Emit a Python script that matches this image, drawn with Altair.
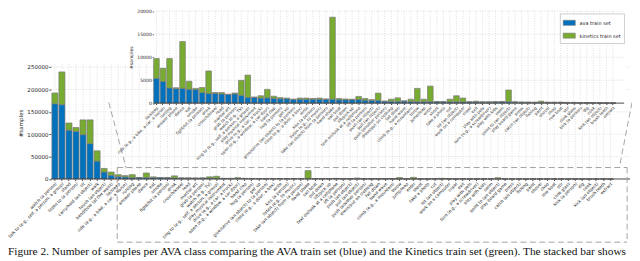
import altair as alt
import pandas as pd

# ---------------- data ----------------
classes = [
    "watch (a person)", "talk to (e.g., self, a person, a group)", "stand", "listen to (a person)", "sit",
    "carry/hold (an object)", "walk", "touch (an object)", "bend/bow (at the waist)", "lie/sleep",
    "ride (e.g., a bike, a car, a horse)", "run/jog", "answer phone", "dance", "eat",
    "smoke", "fight/hit (a person)", "drink", "crouch/kneel", "read",
    "martial art", "grab (a person)", "watch (e.g., TV)", "sing to (e.g., self, a person, a group)", "play musical instrument",
    "drive (e.g., a car, a truck)", "open (e.g., a window, a car door)", "hand clap", "hug (a person)", "get up",
    "give/serve (an object) to (a person)", "close (e.g., a door, a box)", "write", "kiss (a person)", "listen (e.g., to music)",
    "take (an object) from (a person)", "hand shake", "sail boat", "put down", "lift/pick up",
    "text on/look at a cellphone", "lift (a person)", "push (an object)", "pull (an object)", "push (another person)",
    "dress/put on clothing", "fall down", "hand wave", "climb (e.g., a mountain)", "throw",
    "jump/leap", "enter", "shoot", "take a photo", "cut",
    "hit (an object)", "work on a computer", "crawl", "exit", "play with pets",
    "turn (e.g., a screwdriver)", "play with kids", "swim", "point to (an object)", "play board game",
    "press", "catch (an object)", "fishing", "paint", "shovel",
    "chop", "row boat", "stir", "clink glass", "kick (a person)",
    "dig", "cook", "kick (an object)", "brush teeth", "extract",
]
ava = [
    168000, 166000, 109000, 106000, 99000, 79000, 40000, 15600, 8500, 5400,
    4700, 3300, 3150, 3200, 3000, 2950, 2300, 2100, 2100, 2000,
    1900, 2000, 1700, 1250, 1250, 1100, 1150, 1050, 950, 950,
    800, 850, 850, 850, 850, 850, 850, 750, 750, 750,
    800, 650, 600, 600, 400, 400, 400, 450, 350, 300,
    300, 300, 300, 300, 250, 250, 250, 250, 250, 200,
    200, 250, 250, 300, 200, 200, 150, 150, 150, 150,
    150, 150, 120, 120, 100, 100, 80, 60, 50, 40,
]
kinetics = [
    24000, 73000, 16000, 9000, 33000, 53000, 23000, 8000, 7000, 4300,
    2900, 6400, 200, 10200, 1750, 250, 1100, 4900, 200, 300,
    0, 200, 3250, 4850, 50, 500, 1850, 450, 250, 150,
    50, 250, 250, 150, 250, 0, 17850, 250, 150, 100,
    650, 350, 150, 1570, 0, 450, 750, 0, 500, 2900,
    550, 3400, 0, 0, 600, 1350, 850, 50, 150, 100,
    100, 50, 100, 2550, 100, 0, 100, 50, 270, 50,
    50, 50, 50, 50, 30, 30, 30, 20, 20, 10,
]
series = ["ava train set", "kinetics train set"]
INSET_START = 9

# ---------------- layout helpers ----------------
W, H = 632, 253
KX, KY = W / 640, H / 261
def px(x):
    return round(x * KX, 2)
def py(y):
    return round(y * KY, 2)

BLUE, GREEN = "#0072BD", "#77AC30"
EDGE = "#7a7a7a"
GRID = "#c8c8c8"
DASH = "#9a9a9a"
FONT = "DejaVu Sans"

rows = []
for i, (c, a, k) in enumerate(zip(classes, ava, kinetics)):
    rows.append({"cls": c, "idx": i, "series": series[0], "n": a, "o": 0})
    rows.append({"cls": c, "idx": i, "series": series[1], "n": k, "o": 1})
df = pd.DataFrame(rows)
df_in = df[df["idx"] >= INSET_START]
cls_df = pd.DataFrame({"cls": classes, "idx": range(len(classes))})
cls_in = cls_df[cls_df["idx"] >= INSET_START]
inset_classes = classes[INSET_START:]

main_ticks = [0, 50000, 100000, 150000, 200000, 250000]
inset_ticks = [0, 5000, 10000, 15000, 20000]
one = pd.DataFrame({"a": [0]})

mx = alt.Scale(domain=classes, range=[px(45), px(621)], paddingInner=0.14, paddingOuter=0)
my = alt.Scale(domain=[0, 250000], range=[py(177), py(60)], nice=False, zero=True)
ix = alt.Scale(domain=inset_classes, range=[px(149.4), px(623.3)], paddingInner=0.14, paddingOuter=0)
iy = alt.Scale(domain=[0, 20000], range=[py(97.7), py(1.7)], nice=False, zero=True)

color = alt.Color(
    "series:N",
    scale=alt.Scale(domain=series, range=[BLUE, GREEN]),
    legend=alt.Legend(
        title=None, orient="none", legendX=px(566), legendY=py(4), direction="vertical",
        symbolType="M-1,-0.42H1V0.42H-1Z", symbolSize=150, symbolStrokeWidth=0.6,
        symbolStrokeColor=EDGE, labelFontSize=5, labelFont=FONT, labelColor="#222",
        fillColor="white", strokeColor="#cfcfcf", padding=3, rowPadding=2, labelOffset=4,
    ),
)

# main gridlines
main_vgrid = alt.Chart(cls_df).mark_rule(color=GRID, strokeDash=[1, 1.5], strokeWidth=0.6).encode(
    x=alt.X("cls:N", scale=mx, axis=None, sort=classes),
    y=alt.YDatum(0, scale=my, axis=None),
    y2=alt.Y2Datum(256000),
)
main_hgrid = alt.Chart(pd.DataFrame({"t": main_ticks[1:]})).mark_rule(
    color=GRID, strokeDash=[1, 1.5], strokeWidth=0.6
).encode(
    y=alt.Y("t:Q", scale=my, axis=None),
    x=alt.value(px(44)), x2=alt.value(px(638)),
)

main_bars = alt.Chart(df).mark_bar(stroke=EDGE, strokeWidth=0.7).encode(
    x=alt.X(
        "cls:N", scale=mx, sort=classes, title=None,
        axis=alt.Axis(
            orient="bottom",
            labelAngle=-45, labelAlign="right", labelBaseline="top", labelFontSize=4.3,
            labelFont=FONT, labelColor="#222", labelPadding=1, labelOverlap=False, labelBound=False,
            labelLimit=0, ticks=True, tickSize=1.5, tickColor="#444", domain=False, grid=False,
            offset=-(H - py(177)),
        ),
    ),
    y=alt.Y(
        "n:Q", scale=my, stack="zero", title="#samples",
        axis=alt.Axis(
            orient="left",
            values=main_ticks, format="d", labelFontSize=5.6, labelFont=FONT, labelColor="#222",
            tickSize=2, tickColor="#444", domain=False, grid=False, labelPadding=1,
            titleFont=FONT, titleFontSize=5.6, titleFontWeight="normal", titleColor="#222",
            titlePadding=3, offset=-px(44),
        ),
    ),
    color=color,
    order=alt.Order("o:Q"),
)

main_base = alt.Chart(one).mark_rule(color="#333", strokeWidth=0.9).encode(
    y=alt.YDatum(0, scale=my, axis=None), x=alt.value(px(44)), x2=alt.value(px(638)),
)

# inset background
inset_bg = alt.Chart(one).mark_rect(color="white").encode(
    x=alt.value(px(149.5)), x2=alt.value(px(633)), y=alt.value(0), y2=alt.value(py(97.2)),
)

inset_vgrid = alt.Chart(cls_in).mark_rule(color=GRID, strokeDash=[1, 1.5], strokeWidth=0.6).encode(
    x=alt.X("cls:N", scale=ix, axis=None, sort=inset_classes),
    y=alt.YDatum(0, scale=iy, axis=None),
    y2=alt.Y2Datum(20300),
)
inset_hgrid = alt.Chart(pd.DataFrame({"t": inset_ticks[1:]})).mark_rule(
    color=GRID, strokeDash=[1, 1.5], strokeWidth=0.6
).encode(
    y=alt.Y("t:Q", scale=iy, axis=None),
    x=alt.value(px(150)), x2=alt.value(px(632)),
)

inset_bars = alt.Chart(df_in).mark_bar(stroke=EDGE, strokeWidth=0.7).encode(
    x=alt.X(
        "cls:N", scale=ix, sort=inset_classes, title=None,
        axis=alt.Axis(
            orient="bottom",
            labelAngle=-45, labelAlign="right", labelBaseline="top", labelFontSize=4.1,
            labelFont=FONT, labelColor="#222", labelPadding=1, labelOverlap=False, labelBound=False,
            labelLimit=0, ticks=True, tickSize=1.5, tickColor="#444", domain=False, grid=False,
            offset=-(H - py(97.7)),
        ),
    ),
    y=alt.Y(
        "n:Q", scale=iy, stack="zero", title="#samples",
        axis=alt.Axis(
            orient="left",
            values=inset_ticks, format="d", labelFontSize=4.6, labelFont=FONT, labelColor="#222",
            tickSize=2, tickColor="#444", domain=True, domainColor="#bbb", domainWidth=0.6,
            grid=False, labelPadding=1,
            titleFont=FONT, titleFontSize=4.6, titleFontWeight="normal", titleColor="#222",
            titlePadding=3, offset=-px(150),
        ),
    ),
    color=color,
    order=alt.Order("o:Q"),
)

inset_base = alt.Chart(one).mark_rule(color="#333", strokeWidth=0.9).encode(
    y=alt.YDatum(0, scale=iy, axis=None), x=alt.value(px(150)), x2=alt.value(px(632)),
)

# dashed zoom frame + connectors
def dashed(x1, y1, x2, y2):
    return alt.Chart(one).mark_rule(color=DASH, strokeDash=[6, 3.5], strokeWidth=0.9).encode(
        x=alt.value(px(x1)), y=alt.value(py(y1)), x2=alt.value(px(x2)), y2=alt.value(py(y2)),
    )

frame = [
    dashed(112, 165, 635, 165),
    dashed(112, 243, 635, 243),
    dashed(112, 165, 112, 243),
    dashed(635, 165, 635, 243),
    dashed(103.4, 97, 121, 165),
    dashed(640, 97, 627, 165),
]

caption = alt.Chart(one).mark_text(
    text="Figure 2. Number of samples per AVA class comparing the AVA train set (blue) and the Kinetics train set (green). The stacked bar shows",
    align="left", baseline="alphabetic", font="Liberation Serif", fontSize=11.5, color="#111",
).encode(x=alt.value(0), y=alt.value(249))

chart = alt.layer(
    main_vgrid, main_hgrid, main_bars, main_base,
    inset_bg, inset_vgrid, inset_hgrid, inset_bars, inset_base,
    *frame, caption,
).resolve_scale(x="independent", y="independent").properties(
    width=W, height=H, autosize=alt.AutoSizeParams(type="none"), padding=0,
).configure_view(stroke=None)

chart.save("out.html", embed_options={"renderer": "svg", "actions": False})
